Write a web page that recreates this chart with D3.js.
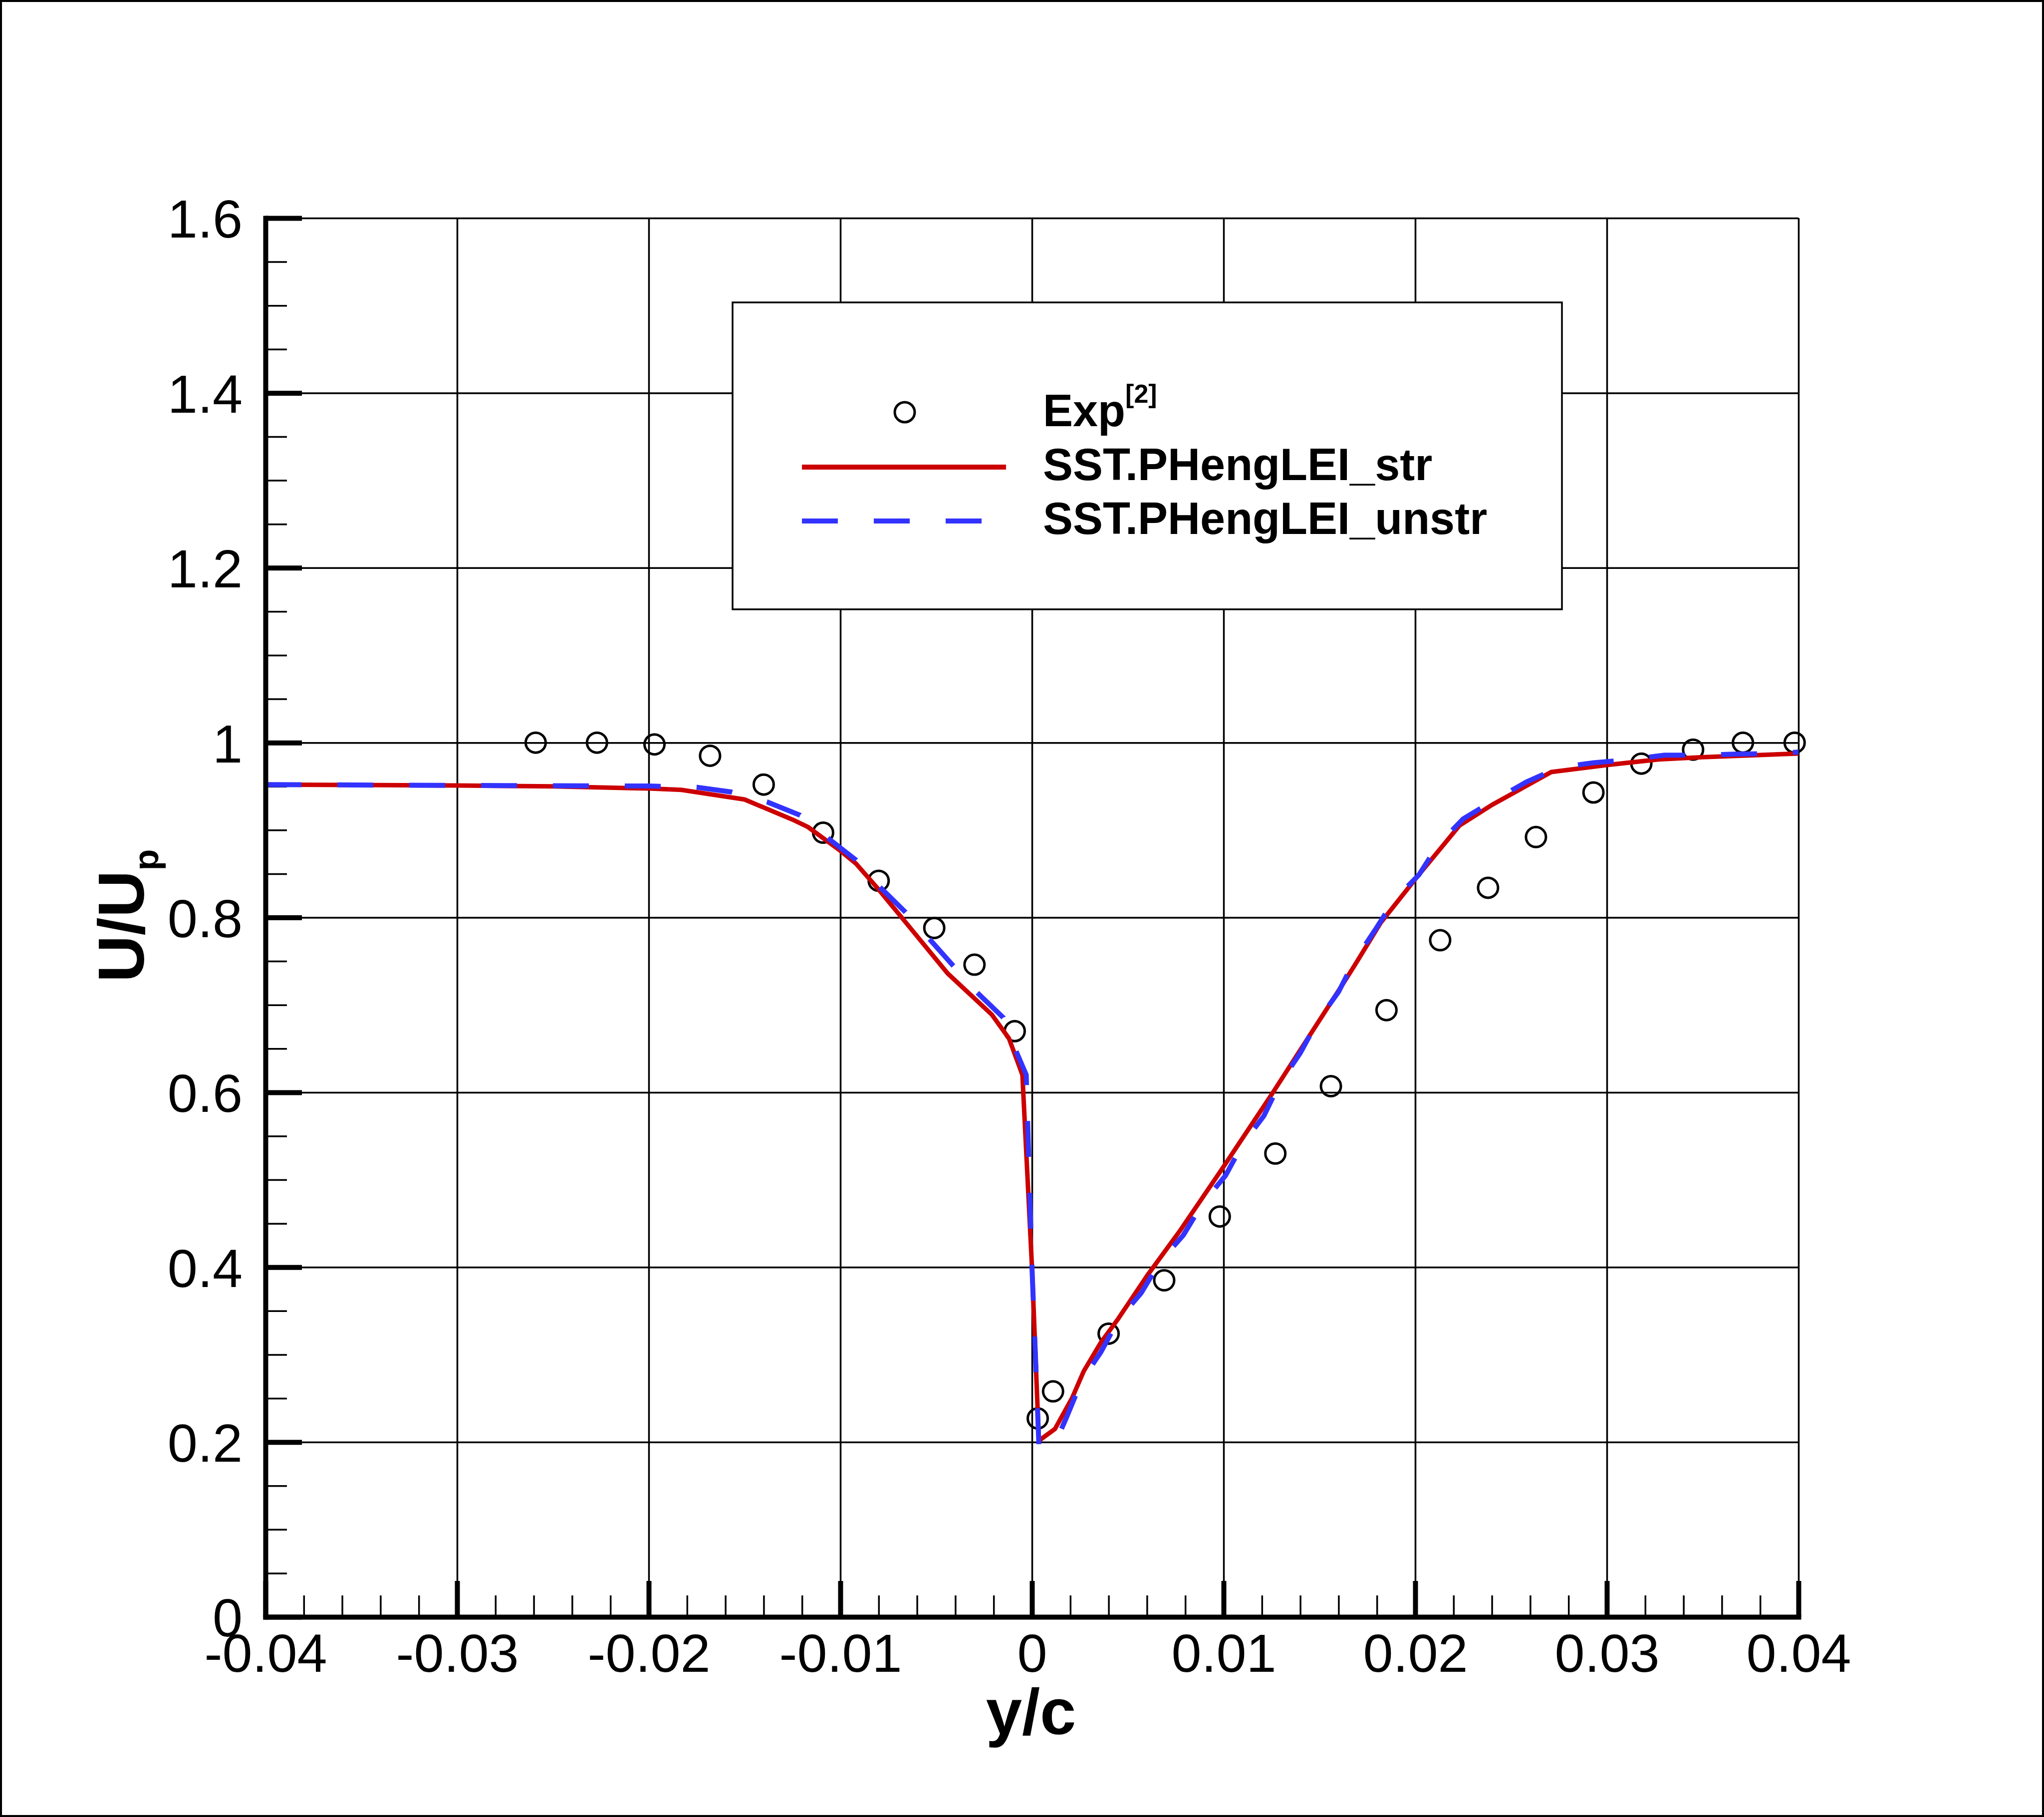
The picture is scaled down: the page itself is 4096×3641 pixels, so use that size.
<!DOCTYPE html>
<html>
<head>
<meta charset="utf-8">
<script src="https://cdn.jsdelivr.net/npm/d3@7"></script>
<style>
  html, body { margin: 0; padding: 0; background: #fff; }
  svg { display: block; font-family: 'Liberation Sans', Arial, Helvetica, sans-serif; }
</style>
</head>
<body>
<svg id="chart" width="4096" height="3641"></svg>
<script>
// experiment
const expX = [-0.0259, -0.0227, -0.0197, -0.0168, -0.0140, -0.0109, -0.0080, -0.0051, -0.0030, -0.0009,
  0.0003, 0.0011, 0.0040, 0.0069, 0.0098, 0.0127, 0.0156, 0.0185, 0.0213, 0.0238,
  0.0263, 0.0293, 0.0318, 0.0345, 0.0371, 0.0398];
const expY = [1.0, 1.0, 0.998, 0.985, 0.952, 0.897, 0.842, 0.788, 0.746, 0.670,
  0.227, 0.258, 0.324, 0.385, 0.458, 0.530, 0.607, 0.694, 0.774, 0.834,
  0.892, 0.943, 0.976, 0.992, 1.0, 1.0];

// SST.PHengLEI_str
const strX = [-0.04, -0.03, -0.025, -0.02, -0.0183, -0.015, -0.0125, -0.0117, -0.0101, -0.0092,
  -0.008, -0.0065, -0.005, -0.0044, -0.0021, -0.0012, -0.0005, 0.0, 0.00036, 0.0012,
  0.0021, 0.0027, 0.0036, 0.0045, 0.0060, 0.0077, 0.0100, 0.01255, 0.01646, 0.0170,
  0.0182, 0.0201, 0.0223, 0.0240, 0.0271, 0.0300, 0.0327, 0.0350, 0.0400];
const strY = [0.952, 0.951, 0.950, 0.9475, 0.946, 0.935, 0.912, 0.9036, 0.878, 0.862,
  0.832, 0.792, 0.752, 0.736, 0.689, 0.6616, 0.620, 0.400, 0.2015, 0.215,
  0.2506, 0.281, 0.314, 0.341, 0.390, 0.441, 0.515, 0.599, 0.732, 0.751,
  0.794, 0.8465, 0.905, 0.9287, 0.9664, 0.9744, 0.9808, 0.9834, 0.9875];

// SST.PHengLEI_unstr
const unstrX = [-0.04, -0.03, -0.02, -0.0175, -0.0157, -0.0138, -0.0121, -0.0106, -0.0092, -0.0079,
  -0.0066, -0.0029, -0.0015, -0.0008, -0.0003, 0.0, 0.00036, 0.0011, 0.0018, 0.0026,
  0.0036, 0.0045, 0.0057, 0.0067, 0.0079, 0.0089, 0.0101, 0.0110, 0.0121, 0.0129,
  0.0140, 0.0149, 0.0160, 0.0168, 0.0179, 0.0189, 0.0202, 0.0212, 0.0225, 0.0241,
  0.0258, 0.0275, 0.0293, 0.0312, 0.0330, 0.0349, 0.0368, 0.0387, 0.0400];
const unstrY = [0.952, 0.951, 0.9504, 0.949, 0.9436, 0.932, 0.917, 0.890, 0.866, 0.834,
  0.806, 0.715, 0.6855, 0.6456, 0.620, 0.400, 0.1975, 0.193, 0.228, 0.2706,
  0.303, 0.3396, 0.3705, 0.4068, 0.4367, 0.4728, 0.5048, 0.541, 0.573, 0.609,
  0.645, 0.681, 0.715, 0.7495, 0.7855, 0.820, 0.849, 0.8834, 0.9127, 0.934,
  0.955, 0.9715, 0.977, 0.9806, 0.9857, 0.9857, 0.9869, 0.9875, 0.9892];

const xTicks = [-0.04, -0.03, -0.02, -0.01, 0, 0.01, 0.02, 0.03, 0.04];
const yTicks = [0, 0.2, 0.4, 0.6, 0.8, 1, 1.2, 1.4, 1.6];

const seriesNames = ['Exp', 'SST.PHengLEI_str', 'SST.PHengLEI_unstr'];

const svg = d3.select('#chart');
const LEFT = 532, RIGHT = 3604, TOP = 437, BOTTOM = 3240;
const FONT = "'Liberation Sans', Arial, Helvetica, sans-serif";

// outer frame
svg.append('rect')
  .attr('x', 2).attr('y', 2)
  .attr('width', 4092).attr('height', 3637)
  .attr('fill', '#fff')
  .attr('stroke', '#000')
  .attr('stroke-width', 4);

const xScale = d3.scaleLinear().domain([-0.04, 0.04]).range([LEFT, RIGHT]);
const yScale = d3.scaleLinear().domain([0, 1.6]).range([BOTTOM, TOP]);

const isMajor = (v, list) => list.some(t => Math.abs(t - v) < 1e-9);
const xMinor = xScale.ticks(40).filter(v => !isMajor(v, xTicks));
const yMinor = yScale.ticks(32).filter(v => !isMajor(v, yTicks));

// grid
const grid = svg.append('g');
grid.append('g')
  .attr('transform', `translate(0,${BOTTOM})`)
  .call(d3.axisBottom(xScale).tickValues(xTicks).tickSize(-(BOTTOM - TOP)).tickFormat(''))
  .call(g => g.select('.domain').remove());
grid.append('g')
  .attr('transform', `translate(${LEFT},0)`)
  .call(d3.axisLeft(yScale).tickValues(yTicks).tickSize(-(RIGHT - LEFT)).tickFormat(''))
  .call(g => g.select('.domain').remove());
grid.selectAll('line').attr('stroke', '#000').attr('stroke-width', 3.5);

// minor ticks
const minor = svg.append('g');
minor.append('g')
  .attr('transform', `translate(0,${BOTTOM})`)
  .call(d3.axisBottom(xScale).tickValues(xMinor).tickSize(-43).tickFormat(''))
  .call(g => g.select('.domain').remove());
minor.append('g')
  .attr('transform', `translate(${LEFT},0)`)
  .call(d3.axisLeft(yScale).tickValues(yMinor).tickSize(-43).tickFormat(''))
  .call(g => g.select('.domain').remove());
minor.selectAll('line').attr('stroke', '#000').attr('stroke-width', 3.5);

// data
const expData = expX.map((x, i) => ({ x, y: expY[i] }));
const strData = strX.map((x, i) => ({ x, y: strY[i] }));
const unstrData = unstrX.map((x, i) => ({ x, y: unstrY[i] }));

const line = d3.line()
  .x(d => xScale(d.x))
  .y(d => yScale(d.y));

svg.append('g')
  .selectAll('circle')
  .data(expData)
  .join('circle')
  .attr('cx', d => xScale(d.x))
  .attr('cy', d => yScale(d.y))
  .attr('r', 20)
  .attr('fill', 'none')
  .attr('stroke', '#000')
  .attr('stroke-width', 5);

svg.append('path')
  .datum(strData)
  .attr('d', line)
  .attr('fill', 'none')
  .attr('stroke', '#cc0000')
  .attr('stroke-width', 9)
  .attr('stroke-linejoin', 'round');

svg.append('path')
  .datum(unstrData)
  .attr('d', line)
  .attr('fill', 'none')
  .attr('stroke', '#3333ff')
  .attr('stroke-width', 10)
  .attr('stroke-dasharray', '72,72');

// main axes
const xAxis = svg.append('g')
  .attr('transform', `translate(0,${BOTTOM})`)
  .call(d3.axisBottom(xScale).tickValues(xTicks).tickSize(-72).tickSizeOuter(0)
    .tickPadding(33).tickFormat(d => String(d)));
const yAxis = svg.append('g')
  .attr('transform', `translate(${LEFT},0)`)
  .call(d3.axisLeft(yScale).tickValues(yTicks).tickSize(-73).tickSizeOuter(0)
    .tickPadding(46).tickFormat(d => String(d)));

[xAxis, yAxis].forEach(ax => {
  ax.select('.domain').attr('stroke', '#000').attr('stroke-width', 10).attr('stroke-linecap', 'square');
  ax.selectAll('.tick line').attr('stroke', '#000').attr('stroke-width', 10);
  ax.selectAll('.tick text')
    .attr('fill', '#000')
    .style('font-family', FONT)
    .style('font-size', '108px');
});
yAxis.selectAll('.tick text').attr('dy', '0.36em');

// axis titles
svg.append('text')
  .attr('x', 2066).attr('y', 3475)
  .attr('text-anchor', 'middle')
  .style('font-family', FONT)
  .style('font-size', '130px')
  .style('font-weight', 'bold')
  .text('y/c');

const yTitle = svg.append('text')
  .attr('transform', 'translate(288,1835) rotate(-90)')
  .attr('text-anchor', 'middle')
  .style('font-family', FONT)
  .style('font-size', '130px')
  .style('font-weight', 'bold');
yTitle.append('tspan').text('U/U');
yTitle.append('tspan').attr('dy', 29).style('font-size', '70px').text('p');

// legend
const legend = svg.append('g');
legend.append('rect')
  .attr('x', 1468).attr('y', 606)
  .attr('width', 1662).attr('height', 615)
  .attr('fill', '#fff')
  .attr('stroke', '#000')
  .attr('stroke-width', 3.5);

legend.append('circle')
  .attr('cx', 1813).attr('cy', 826).attr('r', 20)
  .attr('fill', 'none').attr('stroke', '#000').attr('stroke-width', 5);
legend.append('line')
  .attr('x1', 1607).attr('x2', 2016).attr('y1', 936).attr('y2', 936)
  .attr('stroke', '#cc0000').attr('stroke-width', 10);
legend.append('line')
  .attr('x1', 1607).attr('x2', 1967).attr('y1', 1044).attr('y2', 1044)
  .attr('stroke', '#3333ff').attr('stroke-width', 10).attr('stroke-dasharray', '72,72');

const legendText = legend.append('g')
  .style('font-family', FONT)
  .style('font-size', '90px')
  .style('font-weight', 'bold');
const expLabel = legendText.append('text').attr('x', 2090).attr('y', 854);
expLabel.append('tspan').text(seriesNames[0]);
expLabel.append('tspan').attr('dy', -47).style('font-size', '52px').text('[2]');
legendText.append('text').attr('x', 2090).attr('y', 962).text(seriesNames[1]);
legendText.append('text').attr('x', 2090).attr('y', 1070).text(seriesNames[2]);
</script>
</body>
</html>
